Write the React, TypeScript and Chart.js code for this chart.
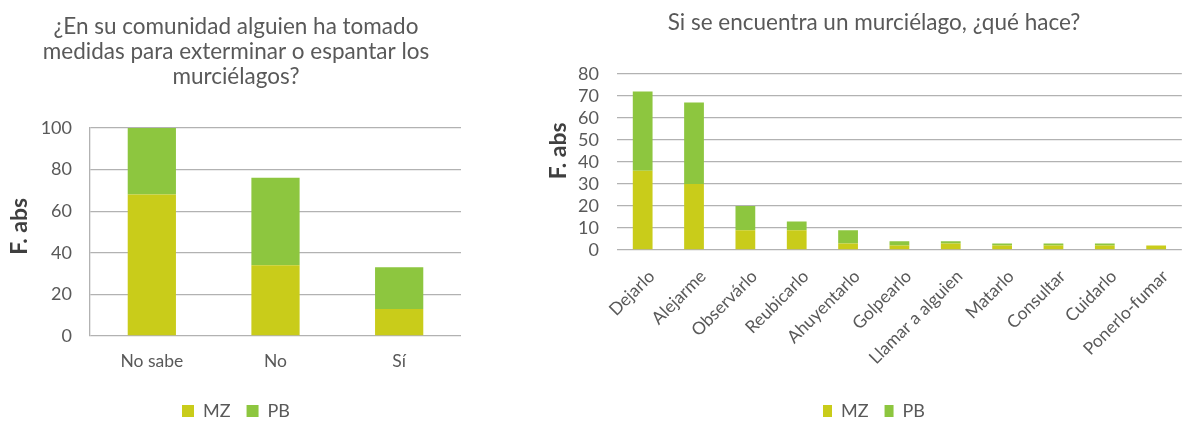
import React, { useEffect, useRef } from 'react';
import { Chart, registerables } from 'chart.js';

Chart.register(...registerables);

const leftTitle = ['¿En su comunidad alguien ha tomado', 'medidas para exterminar o espantar los', 'murciélagos?'];
const leftCategories = ['No sabe', 'No', 'Sí'];
const leftMZ = [68, 34, 13];
const leftPB = [32, 42, 20];
const leftMax = 100;
const leftStep = 20;

const rightTitle = 'Si se encuentra un murciélago, ¿qué hace?';
const rightCategories = ['Dejarlo', 'Alejarme', 'Observárlo', 'Reubicarlo', 'Ahuyentarlo', 'Golpearlo', 'Llamar a alguien', 'Matarlo', 'Consultar', 'Cuidarlo', 'Ponerlo-fumar'];
const rightMZ = [36, 30, 9, 9, 3, 2, 3, 2, 2, 2, 2];
const rightPB = [36, 37, 11, 4, 6, 2, 1, 1, 1, 1, 0];
const rightMax = 80;
const rightStep = 10;

const seriesNames = ['MZ', 'PB'];
const yAxisTitle = 'F. abs';
const MZ_COLOR = '#C9CC1A';
const PB_COLOR = '#8DC63F';
const TEXT = '#595959';
const GRID = '#b2b2b2';
const FONT = 'Lato, "Open Sans", sans-serif';

type Opts = {
  title: string | string[];
  titlePadTop: number;
  titlePadBottom: number;
  categories: string[];
  mz: number[];
  pb: number[];
  max: number;
  step: number;
  yWidth: number;
  yTitlePad: number;
  yTitleLead: string;
  xHeight: number;
  xPad: number;
  xLabelOffset: number;
  rotate: number;
  xFont: number;
  barPct: number;
  border: boolean;
  boxW: number;
  padLeft: number;
  padRight: number;
  padBottom: number;
};

function makeConfig(o: Opts): any {
  return {
    type: 'bar',
    data: {
      labels: o.categories,
      datasets: [
        { label: seriesNames[0], data: o.mz, backgroundColor: MZ_COLOR, borderWidth: 0 },
        { label: seriesNames[1], data: o.pb, backgroundColor: PB_COLOR, borderWidth: 0 },
      ],
    },
    options: {
      animation: false,
      responsive: true,
      maintainAspectRatio: false,
      layout: { padding: { left: o.padLeft, right: o.padRight, top: 0, bottom: o.padBottom } },
      datasets: { bar: { barPercentage: o.barPct, categoryPercentage: 1 } },
      plugins: {
        tooltip: { enabled: false },
        title: {
          display: true,
          text: o.title,
          color: TEXT,
          font: { family: FONT, size: 22.5, weight: 'normal', lineHeight: 1.11 },
          padding: { top: o.titlePadTop, bottom: o.titlePadBottom },
        },
        legend: {
          display: true,
          position: 'bottom',
          labels: {
            color: TEXT,
            font: { family: FONT, size: 18 },
            boxWidth: o.boxW,
            boxHeight: 12,
            padding: 16,
          },
        },
      },
      scales: {
        x: {
          stacked: true,
          grid: { display: false, drawTicks: false },
          border: { display: false },
          ticks: {
            color: TEXT,
            font: { family: FONT, size: o.xFont },
            padding: o.xPad,
            labelOffset: o.xLabelOffset,
            maxRotation: o.rotate,
            minRotation: o.rotate,
            autoSkip: false,
          },
          afterFit: (s: any) => { s.height = o.xHeight; },
        },
        y: {
          stacked: true,
          min: 0,
          max: o.max,
          ticks: {
            stepSize: o.step,
            autoSkip: false,
            color: TEXT,
            font: { family: FONT, size: 18 },
            padding: 18,
          },
          grid: { color: GRID, lineWidth: 1.3, drawTicks: false },
          border: { display: o.border, color: GRID, width: 1.3 },
          title: {
            display: true,
            text: o.yTitleLead + yAxisTitle,
            color: '#3f3f3f',
            font: { family: FONT, size: 23, weight: 'bold', lineHeight: 1.2 },
            padding: { top: o.yTitlePad, bottom: 0 },
          },
          afterFit: (s: any) => { s.width = o.yWidth; },
        },
      },
    },
  };
}

function ChartBox(props: { opts: Opts; style: React.CSSProperties }) {
  const ref = useRef<HTMLCanvasElement | null>(null);
  useEffect(() => {
    if (!ref.current) return;
    const c = new Chart(ref.current, makeConfig(props.opts));
    return () => c.destroy();
  }, []);
  return (
    <div style={{ position: 'absolute', ...props.style }}>
      <canvas ref={ref} />
    </div>
  );
}

export default function App() {
  useEffect(() => {
    document.body.style.margin = '0';
  }, []);
  const left: Opts = {
    title: leftTitle,
    titlePadTop: 14,
    titlePadBottom: 39,
    categories: leftCategories,
    mz: leftMZ,
    pb: leftPB,
    max: leftMax,
    step: leftStep,
    yWidth: 79,
    yTitlePad: -5,
    yTitleLead: '\u00A0\u00A0',
    xHeight: 50,
    xPad: 15,
    xLabelOffset: 0,
    rotate: 0,
    xFont: 17.5,
    barPct: 0.39,
    border: true,
    boxW: 12,
    padLeft: 11,
    padRight: 14,
    padBottom: -9,
  };
  const right: Opts = {
    title: rightTitle,
    titlePadTop: 10,
    titlePadBottom: 39,
    categories: rightCategories,
    mz: rightMZ,
    pb: rightPB,
    max: rightMax,
    step: rightStep,
    yWidth: 56,
    yTitlePad: -16,
    yTitleLead: '\u00A0\u00A0\u00A0\u00A0',
    xHeight: 136,
    xPad: 16,
    xLabelOffset: 9,
    rotate: 45,
    xFont: 17.5,
    barPct: 0.385,
    border: false,
    boxW: 9,
    padLeft: 21,
    padRight: 0,
    padBottom: -9,
  };
  return (
    <div style={{ position: 'relative', width: 1187, height: 421, background: '#fff' }}>
      <ChartBox opts={left} style={{ left: 0, top: 0, width: 475, height: 421 }} />
      <ChartBox opts={right} style={{ left: 540, top: 0, width: 647, height: 421 }} />
    </div>
  );
}
